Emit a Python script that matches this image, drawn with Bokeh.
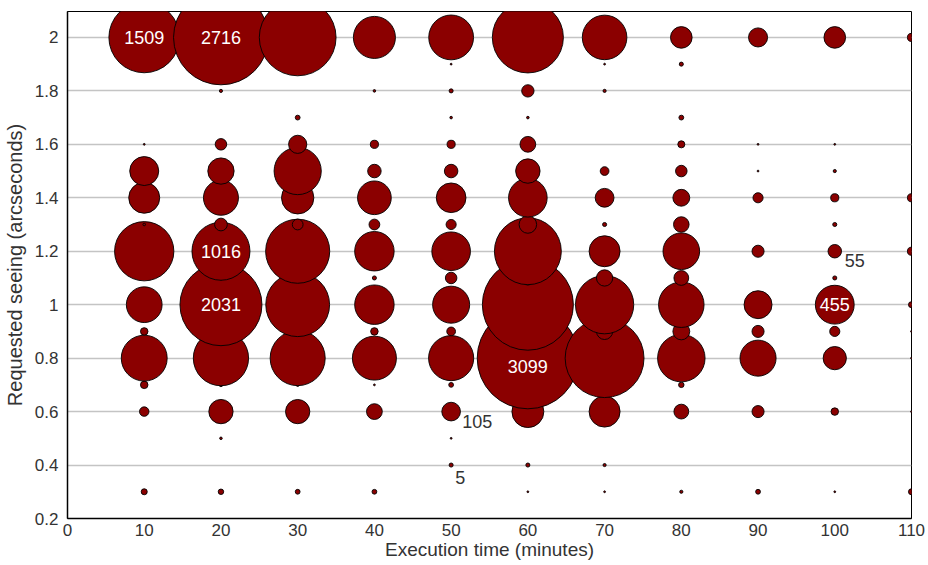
import numpy as np
from bokeh.plotting import figure
from bokeh.models import ColumnDataSource, Range1d, FixedTicker, CustomJSTickFormatter
from bokeh.core.properties import value
from bokeh.embed import file_html
from bokeh.resources import INLINE

# ---- data -------------------------------------------------------------
exec_time = [10, 20, 30, 40, 50, 60, 70, 80, 90, 100, 110]
seeing = [0.3, 0.4, 0.5, 0.6, 0.7, 0.8, 0.9, 1.0, 1.1, 1.2, 1.3, 1.4, 1.5, 1.6, 1.7, 1.8, 1.9, 2.0]

# counts per execution time, aligned with `seeing`
n10 = [11, 0, 0, 27, 17, 636, 17, 386, 0, 1061, 2, 290, 254, 1, 0, 0, 0, 1509]
n20 = [9, 0, 2, 178, 4, 922, 5, 2031, 5, 1016, 49, 370, 209, 40, 0, 3, 0, 2716]
n30 = [7, 0, 0, 178, 3, 915, 3, 1230, 3, 1240, 35, 316, 672, 100, 7, 0, 0, 1780]
n40 = [7, 0, 0, 75, 1, 585, 17, 470, 5, 470, 35, 343, 55, 20, 0, 2, 0, 534]
n50 = [0, 5, 1, 105, 7, 615, 23, 414, 40, 450, 31, 266, 55, 20, 2, 5, 1, 606]
n60 = [1, 5, 0, 308, 0, 3099, 0, 2500, 60, 1350, 93, 450, 180, 75, 2, 46, 0, 1525]
n70 = [1, 3, 0, 290, 0, 1878, 79, 1026, 80, 290, 5, 107, 23, 0, 0, 3, 1, 600]
n80 = [3, 0, 0, 66, 9, 680, 86, 625, 66, 405, 73, 86, 40, 15, 7, 0, 5, 141]
n90 = [7, 0, 0, 44, 0, 393, 44, 236, 0, 44, 0, 31, 1, 1, 0, 0, 0, 110]
n100 = [1, 0, 0, 17, 0, 163, 31, 455, 5, 55, 5, 20, 3, 1, 0, 0, 0, 141]
n110 = [11, 0, 0, 1, 0, 1, 1, 11, 0, 20, 0, 20, 0, 0, 0, 0, 0, 20]

columns = [n10, n20, n30, n40, n50, n60, n70, n80, n90, n100, n110]

# labelled bubbles (white labels inside, grey labels beside)
inner_x = [10, 20, 20, 20, 100]
inner_y = [2.0, 2.0, 1.2, 1.0, 1.0]
low_x = [60]
low_y = [0.8]
side_x = [50, 100, 50]
side_y = [0.6, 1.2, 0.4]

x_ticks = [0, 10, 20, 30, 40, 50, 60, 70, 80, 90, 100, 110]
y_ticks = [0.2, 0.4, 0.6, 0.8, 1.0, 1.2, 1.4, 1.6, 1.8, 2.0]

# ---- build -------------------------------------------------------------
def count_at(x, y):
    return columns[exec_time.index(x)][int(round((y - 0.3) * 10))]

xs, ys, cs = [], [], []
for j, s in enumerate(seeing):          # lower rows first, upper rows drawn on top
    for i, t in enumerate(exec_time):
        c = columns[i][j]
        if c > 0:
            xs.append(t); ys.append(s); cs.append(c)
cs = np.array(cs, dtype=float)
K = 0.91
src = ColumnDataSource(dict(x=xs, y=ys, n=cs, size=2 * K * np.sqrt(cs)))

FONT = "Liberation Sans"
TXT = "#333333"

p = figure(width=928, height=565, output_backend="svg", toolbar_location=None,
           x_range=Range1d(0, 110), y_range=Range1d(0.2, 2.097),
           min_border_left=67, min_border_right=17, min_border_top=11, min_border_bottom=47)
p.background_fill_color = "white"
p.border_fill_color = "white"
p.outline_line_color = "black"
p.outline_line_width = 1

p.scatter("x", "y", size="size", source=src, marker="circle",
          fill_color="#8b0000", line_color="black", line_width=0.9)

def lbl(xl, yl, color, align, xo, yo):
    s = ColumnDataSource(dict(x=xl, y=yl, t=[str(count_at(a, b)) for a, b in zip(xl, yl)],
                              xo=list(xo), yo=list(yo)))
    p.text("x", "y", text="t", source=s, text_color=color, text_align=align,
           text_baseline="middle", text_font=value(FONT), text_font_size="18px",
           x_offset="xo", y_offset="yo")

lbl(inner_x, inner_y, "white", "center", [0] * 5, [0] * 5)
lbl(low_x, low_y, "white", "center", [0], [8])
lbl(side_x, side_y, TXT, "left", [11, 10, 4], [10, 9, 12])

p.xgrid.grid_line_color = None
p.ygrid.grid_line_color = "#c4c4c4"
p.ygrid.grid_line_width = 1.5

p.xaxis.ticker = FixedTicker(ticks=x_ticks)
p.yaxis.ticker = FixedTicker(ticks=y_ticks)
p.yaxis.formatter = CustomJSTickFormatter(code="return String(Math.round(tick*10)/10)")
p.xaxis.axis_label = "Execution time (minutes)"
p.yaxis.axis_label = "Requested seeing (arcseconds)"
for ax in (p.xaxis, p.yaxis):
    ax.axis_line_color = "black"
    ax.axis_line_width = 1.5
    ax.major_tick_line_color = None
    ax.minor_tick_line_color = None
    ax.major_tick_out = 0
    ax.major_tick_in = 0
    ax.major_label_text_font = FONT
    ax.major_label_text_font_size = "17px"
    ax.major_label_text_color = TXT
    ax.axis_label_text_font = FONT
    ax.axis_label_text_font_style = "normal"
    ax.axis_label_text_color = TXT
p.xaxis.axis_label_text_font_size = "19px"
p.yaxis.axis_label_text_font_size = "20px"
p.xaxis.major_label_standoff = 5
p.xaxis.axis_label_standoff = 0
p.yaxis.major_label_standoff = 9
p.yaxis.axis_label_standoff = 6

open("out.html", "w").write(file_html(p, INLINE))
